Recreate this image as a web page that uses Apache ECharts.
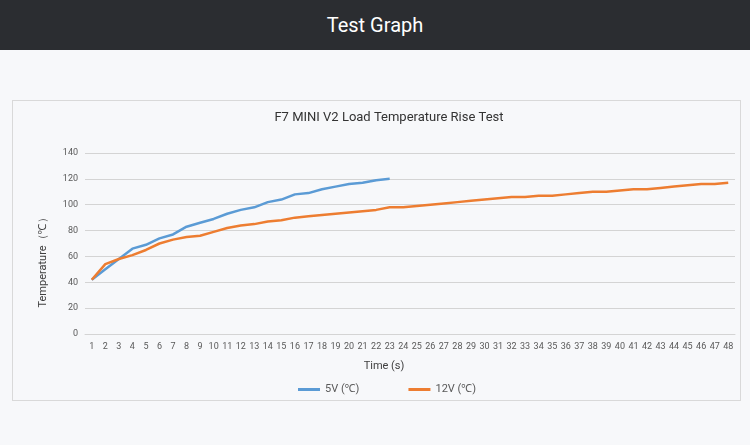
<!DOCTYPE html>
<html>
<head>
<meta charset="utf-8">
<title>Test Graph</title>
<script src="https://cdn.jsdelivr.net/npm/echarts@6/dist/echarts.min.js"></script>
<style>
  html, body { margin: 0; padding: 0; width: 750px; height: 445px; background: #f7f8fa; overflow: hidden; }
  .header { position: absolute; left: 0; top: 0; width: 750px; height: 50px; background: #2b2d31;
    color: #fff; font: 20px Roboto, "Noto Sans", sans-serif; line-height: 50px; text-align: center; }
  .box { position: absolute; left: 12px; top: 100px; width: 727px; height: 299px; border: 1px solid #d9d9d9; background: #f7f8fa; }
  #chart { position: absolute; left: 0; top: 0; width: 750px; height: 445px; }
</style>
</head>
<body>
<div class="header">Test Graph</div>
<div class="box"></div>
<div id="chart"></div>
<script>
// time in seconds, one category per reading
const times = []
for (let i = 1; i <= 48; i++) times.push(String(i))

// 5V run, stopped after 23 readings
const temp5v = [42, 50, 58, 66, 69, 74, 77, 83, 86, 89, 93, 96, 98, 102, 104, 108, 109, 112, 114, 116, 117, 119, 120]

// 12V run
const temp12v = [42, 54, 58, 61, 65, 70, 73, 75, 76, 79, 82, 84, 85, 87, 88, 90, 91, 92, 93, 94, 95, 96, 98, 98,
  99, 100, 101, 102, 103, 104, 105, 106, 106, 107, 107, 108, 109, 110, 110, 111, 112, 112, 113, 114, 115, 116, 116, 117]

const ec = echarts.init(document.getElementById('chart'), null, { renderer: 'canvas' })

const font = 'Roboto, "Noto Sans", sans-serif'
const gridColor = '#d4d4d4'
const labelColor = '#595959'

ec.setOption({
  backgroundColor: 'transparent',
  animation: false,
  color: ['#5b9bd5', '#ed7d31'],
  title: {
    text: 'F7 MINI V2 Load Temperature Rise Test',
    left: 384,
    top: 106,
    textAlign: 'center',
    textStyle: { fontFamily: font, fontSize: 13, fontWeight: 'normal', color: '#333333' }
  },
  grid: { left: 85, right: 15, top: 153, bottom: 111 },
  legend: {
    left: 293,
    top: 379,
    icon: 'rect',
    itemWidth: 22,
    itemHeight: 3,
    itemGap: 49,
    textStyle: { fontFamily: font, fontSize: 11, color: labelColor }
  },
  xAxis: {
    type: 'category',
    data: times,
    boundaryGap: true,
    name: 'Time (s)',
    nameLocation: 'middle',
    nameGap: 27,
    nameTextStyle: { fontFamily: font, fontSize: 11, color: '#404040', padding: [0, 52, 0, 0] },
    axisLine: { lineStyle: { color: gridColor } },
    axisTick: { show: false },
    axisLabel: { interval: 0, fontFamily: font, fontSize: 9, color: labelColor, margin: 8 }
  },
  yAxis: {
    type: 'value',
    min: 0,
    max: 140,
    interval: 20,
    name: 'Temperature（℃）',
    nameLocation: 'middle',
    nameGap: 36,
    nameTextStyle: { fontFamily: font, fontSize: 11, color: '#404040', padding: [0, 33, 0, 0] },
    axisLine: { show: false },
    axisTick: { show: false },
    axisLabel: { fontFamily: font, fontSize: 9, color: labelColor, margin: 7 },
    splitLine: { lineStyle: { color: gridColor, width: 1 } }
  },
  series: [
    {
      name: '5V (℃)',
      type: 'line',
      data: temp5v,
      symbol: 'none',
      lineStyle: { width: 2.5 }
    },
    {
      name: '12V (℃)',
      type: 'line',
      data: temp12v,
      symbol: 'none',
      lineStyle: { width: 2.5 }
    }
  ]
})
</script>
</body>
</html>
